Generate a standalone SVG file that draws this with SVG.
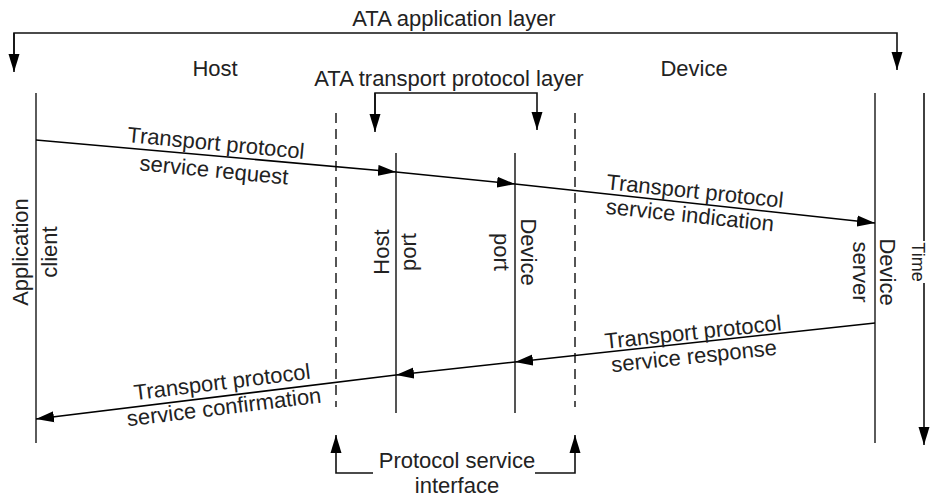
<svg xmlns="http://www.w3.org/2000/svg" width="930" height="497" viewBox="0 0 930 497">
<defs>
<marker id="ah" markerUnits="userSpaceOnUse" markerWidth="18" markerHeight="12" refX="18" refY="5.5" orient="auto" viewBox="0 0 18 11">
<path d="M0,0 L18,5.5 L0,11 z" fill="#000"/>
</marker>
<style>
text{font-family:"Liberation Sans",Arial,sans-serif;font-size:22px;fill:#222;text-anchor:middle;dominant-baseline:central}
.ln{stroke:#111;stroke-width:1.6;fill:none}
.life{stroke:#333;stroke-width:1.6;fill:none}
.port{stroke:#555;stroke-width:2;fill:none}
.dash{stroke:#555;stroke-width:2;fill:none;stroke-dasharray:10 6}
.msg{stroke:#000;stroke-width:1.6;fill:none;marker-end:url(#ah)}
</style>
</defs>
<rect width="930" height="497" fill="#fff"/>

<g id="labels">
<text x="454" y="18">ATA application layer</text>
<text x="215" y="68">Host</text>
<text x="694" y="68">Device</text>
<text x="449" y="78">ATA transport protocol layer</text>
<text x="457" y="460">Protocol service</text>
<text x="457" y="485">interface</text>
</g>

<g id="application-client">
<line class="life" x1="36" y1="93" x2="36" y2="443"/>
<text transform="translate(20,252) rotate(-90)">Application</text>
<text transform="translate(49,252) rotate(-90)">client</text>
</g>

<g id="host-port">
<line class="port" x1="396" y1="153" x2="396" y2="413"/>
<text transform="translate(381,252) rotate(-90)">Host</text>
<text transform="translate(408,252) rotate(-90)">port</text>
</g>

<g id="device-port">
<line class="port" x1="515" y1="153" x2="515" y2="413"/>
<text transform="translate(528,252) rotate(90)">Device</text>
<text transform="translate(501,252) rotate(90)">port</text>
</g>

<g id="device-server">
<line class="life" x1="875" y1="93" x2="875" y2="443"/>
<text transform="translate(887,272) rotate(90)">Device</text>
<text transform="translate(860,272) rotate(90)">server</text>
</g>

<g id="interfaces">
<line class="dash" x1="336" y1="113" x2="336" y2="407"/>
<line class="dash" x1="575" y1="113" x2="575" y2="407"/>
</g>

<g id="time">
<line class="ln" x1="924" y1="93" x2="924" y2="241"/>
<line class="ln" x1="924" y1="283" x2="924" y2="445" marker-end="url(#ah)"/>
<text transform="translate(912,262) rotate(90)" style="dominant-baseline:auto;font-size:18px">Time</text>
</g>

<g id="connectors">
<path class="ln" d="M14,70 V33 H897 V70" style="marker-end:url(#ah)"/>
<line class="ln" x1="14" y1="33" x2="14" y2="72" marker-end="url(#ah)"/>
<path class="ln" d="M375,130 V93 H537 V130" style="marker-end:url(#ah)"/>
<line class="ln" x1="375" y1="93" x2="375" y2="132" marker-end="url(#ah)"/>
<path class="ln" d="M373,473 H336 V435" marker-end="url(#ah)"/>
<path class="ln" d="M535,473 H575 V435" marker-end="url(#ah)"/>

<line class="msg" x1="36" y1="140" x2="396" y2="172"/>
<line class="msg" x1="396" y1="172" x2="515" y2="184"/>
<line class="msg" x1="515" y1="184" x2="875" y2="223"/>
<line class="msg" x1="875" y1="323" x2="515" y2="362"/>
<line class="msg" x1="515" y1="362" x2="396" y2="375"/>
<line class="msg" x1="396" y1="375" x2="36" y2="419"/>
</g>

<g id="message-labels">
<text transform="translate(216,143) rotate(5.5)">Transport protocol</text>
<text transform="translate(214,170) rotate(5.5)">service request</text>
<text transform="translate(695,191) rotate(6)">Transport protocol</text>
<text transform="translate(690,215) rotate(6)">service indication</text>
<text transform="translate(693,332) rotate(-6)">Transport protocol</text>
<text transform="translate(694,356) rotate(-6)">service response</text>
<text transform="translate(222,382) rotate(-7)">Transport protocol</text>
<text transform="translate(224,407) rotate(-7)">service confirmation</text>
</g>
</svg>
